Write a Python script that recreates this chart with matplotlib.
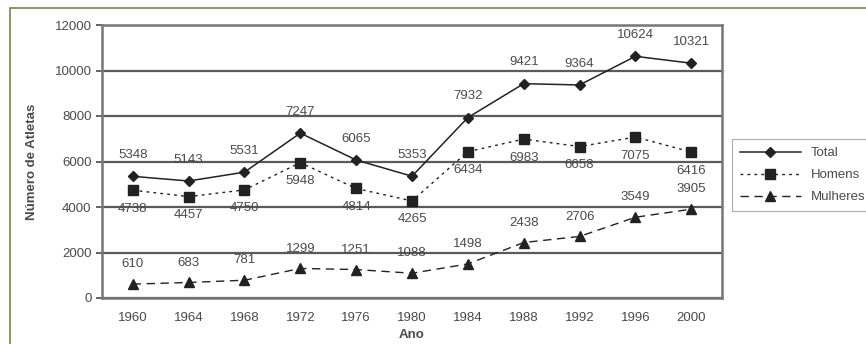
import matplotlib
matplotlib.use("Agg")
import matplotlib.pyplot as plt
from matplotlib.patches import Rectangle

plt.rcParams['font.family'] = ['Liberation Sans', 'DejaVu Sans']

anos = ["1960", "1964", "1968", "1972", "1976", "1980", "1984", "1988", "1992", "1996", "2000"]
total = [5348, 5143, 5531, 7247, 6065, 5353, 7932, 9421, 9364, 10624, 10321]
homens = [4738, 4457, 4750, 5948, 4814, 4265, 6434, 6983, 6658, 7075, 6416]
mulheres = [610, 683, 781, 1299, 1251, 1088, 1498, 2438, 2706, 3549, 3905]

txt = "#4a4a4a"
fs = 9.5
fig = plt.figure(figsize=(8.66, 3.44), dpi=100)
ax = fig.add_axes([102 / 866, 1 - 298 / 344, (722 - 102) / 866, (298 - 25) / 344])

x = list(range(len(anos)))
ax.plot(x, total, color="#222222", lw=1.1, ls="-", marker="D", ms=5, label="Total")
ax.plot(x, homens, color="#222222", lw=1.0, ls=(0, (2, 3)), marker="s", ms=7, label="Homens")
ax.plot(x, mulheres, color="#222222", lw=1.0, ls=(0, (6, 4)), marker="^", ms=7, label="Mulheres")

for xi, v in zip(x, total):
    ax.annotate(str(v), (xi, v), xytext=(0, 11), textcoords="offset points",
                ha="center", va="bottom", fontsize=fs, color=txt)
for xi, v in zip(x, homens):
    ax.annotate(str(v), (xi, v), xytext=(0, -9), textcoords="offset points",
                ha="center", va="top", fontsize=fs, color=txt)
for xi, v in zip(x, mulheres):
    ax.annotate(str(v), (xi, v), xytext=(0, 10), textcoords="offset points",
                ha="center", va="bottom", fontsize=fs, color=txt)

ax.set_xlim(-0.55, len(anos) - 0.45)
ax.set_ylim(0, 12000)
ax.set_yticks(range(0, 12001, 2000))
ax.set_xticks(x)
ax.set_xticklabels(anos)
ax.yaxis.grid(True, color="#5a5a5a", lw=1.6)
ax.set_axisbelow(True)
for s in ax.spines.values():
    s.set_color("#777777")
    s.set_linewidth(1.8)
ax.tick_params(axis="both", colors=txt, labelsize=fs, length=4, width=1.2)
ax.tick_params(axis="x", length=0, pad=10)
ax.set_xlabel("Ano", fontsize=fs, fontweight="bold", color=txt, labelpad=4)
ax.set_ylabel("Número de Atletas", fontsize=fs, fontweight="bold", color=txt, labelpad=12)

leg = fig.legend(loc="upper left", bbox_to_anchor=(732 / 866, 1 - 139 / 344),
                 frameon=True, fontsize=fs, handlelength=4.6, borderpad=0.6,
                 labelspacing=0.75, fancybox=False, borderaxespad=0,
                 handletextpad=0.8)
leg.get_frame().set_edgecolor("#999999")
leg.get_frame().set_linewidth(0.8)
for t in leg.get_texts():
    t.set_color(txt)

# outer frame of the figure
fig.patches.append(Rectangle((10 / 866, -0.05), 1.1, 1 - 8 / 344 + 0.05,
                             transform=fig.transFigure, fill=False,
                             edgecolor="#8a7a48", lw=1.2))

fig.savefig("out.png", dpi=100)
